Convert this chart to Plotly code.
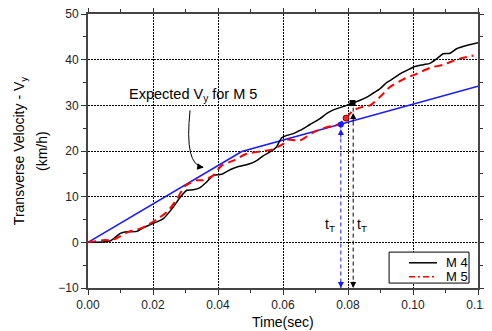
import plotly.graph_objects as go

# M 4 (black solid)
m4_t = [0, 0.0068, 0.0098, 0.0119, 0.015, 0.017, 0.0196, 0.0232, 0.0262, 0.0283, 0.0304, 0.0324,
        0.0345, 0.0365, 0.0386, 0.0411, 0.0437, 0.0463, 0.0493, 0.0519, 0.054, 0.056, 0.058, 0.0596,
        0.0616, 0.0632, 0.0652, 0.0683, 0.0714, 0.0734, 0.0755, 0.078, 0.0796, 0.0814, 0.0837, 0.0858,
        0.0878, 0.0898, 0.0919, 0.0929, 0.096, 0.0991, 0.1006, 0.1032, 0.1052, 0.1073, 0.1093, 0.1114,
        0.1134, 0.1165, 0.12]
m4_v = [0, 0.3, 1.9, 2.3, 2.4, 3.2, 4.0, 5.2, 7.7, 9.8, 11.4, 11.5,
        12.0, 13.2, 14.7, 14.9, 15.9, 16.6, 17.1, 17.9, 19.0, 19.8, 20.9, 22.9,
        23.5, 23.8, 24.5, 25.8, 27.1, 28.2, 29.0, 29.6, 30.0, 30.5, 31.1, 31.8,
        32.7, 33.6, 35.0, 35.4, 36.9, 38.0, 38.5, 38.9, 39.2, 40.2, 41.3, 41.4,
        42.4, 43.1, 43.7]

# M 5 (red dashed)
m5_t = [0, 0.0052, 0.0068, 0.0088, 0.0124, 0.016, 0.0181, 0.0211, 0.0242, 0.0273, 0.0298, 0.0334,
        0.0355, 0.0386, 0.0411, 0.0447, 0.0488, 0.0529, 0.0565, 0.0601, 0.0611, 0.0652, 0.0693,
        0.0734, 0.077, 0.0794, 0.0816, 0.0842, 0.0868, 0.0898, 0.0929, 0.097, 0.1011, 0.1052,
        0.1093, 0.1134, 0.1186]
m5_v = [0, 0.5, 0.4, 0.9, 2.3, 3.0, 3.7, 5.0, 6.6, 9.4, 12.3, 13.6,
        13.6, 14.7, 16.8, 17.9, 19.4, 19.9, 20.3, 21.6, 22.5, 22.3, 24.1,
        25.2, 25.8, 27.2, 28.9, 29.6, 30.0, 31.8, 34.0, 35.7, 36.9, 38.2,
        38.9, 40.0, 40.9]

# Expected Vy for M 5 (blue)
exp_t = [0, 0.0473, 0.12]
exp_v = [0, 19.9, 34.2]

# Marked points
blue_pt = (0.0778, 25.8)
red_pt = (0.0794, 27.2)
black_pt = (0.0814, 30.5)

x_ticks = [0.00, 0.02, 0.04, 0.06, 0.08, 0.10, 0.12]
y_ticks = [-10, 0, 10, 20, 30, 40, 50]

legend_names = ["M 4", "M 5"]

FONT = "Liberation Sans, Arial, sans-serif"
BLUE = "#1a1aff"
RED = "#ff0000"

fig = go.Figure()

fig.add_trace(go.Scatter(x=exp_t, y=exp_v, mode="lines", line=dict(color=BLUE, width=1.6),
                         showlegend=False, hoverinfo="skip"))
fig.add_trace(go.Scatter(x=m4_t, y=m4_v, mode="lines", name=legend_names[0], showlegend=False,
                         line=dict(color="black", width=1.5, shape="spline", smoothing=0.6)))
fig.add_trace(go.Scatter(x=m5_t, y=m5_v, mode="lines", name=legend_names[1], showlegend=False,
                         line=dict(color=RED, width=2, dash="8px,5px", shape="spline", smoothing=0.6)))

# vertical dashed guide lines
fig.add_trace(go.Scatter(x=[blue_pt[0], blue_pt[0]], y=[blue_pt[1], -10], mode="lines",
                         line=dict(color=BLUE, width=1, dash="4px,3px"), showlegend=False, hoverinfo="skip"))
fig.add_trace(go.Scatter(x=[black_pt[0] + 0.0002, black_pt[0] + 0.0002], y=[black_pt[1] - 1, -10], mode="lines",
                         line=dict(color="black", width=1, dash="4px,3px"), showlegend=False, hoverinfo="skip"))

# markers
fig.add_trace(go.Scatter(x=[blue_pt[0]], y=[blue_pt[1]], mode="markers",
                         marker=dict(color=BLUE, size=6, symbol="circle"), showlegend=False, hoverinfo="skip"))
fig.add_trace(go.Scatter(x=[red_pt[0]], y=[red_pt[1]], mode="markers",
                         marker=dict(color="#ff2020", size=6, symbol="circle", line=dict(color="#800000", width=1)),
                         showlegend=False, hoverinfo="skip"))
fig.add_trace(go.Scatter(x=[black_pt[0]], y=[black_pt[1]], mode="markers",
                         marker=dict(color="black", size=6, symbol="square"), showlegend=False, hoverinfo="skip"))

annotations = []
# arrow heads
for (xx, yy, ay, col) in [(blue_pt[0], blue_pt[1] - 1.0, 10, BLUE),
                          (blue_pt[0], -10, -8, BLUE),
                          (black_pt[0] + 0.0002, black_pt[1] - 2.2, 10, "black"),
                          (black_pt[0] + 0.0002, -10, -8, "black")]:
    annotations.append(dict(x=xx, y=yy, xref="x", yref="y", ax=0, ay=ay, showarrow=True,
                            arrowhead=2, arrowsize=1.2, arrowwidth=1, arrowcolor=col, text=""))

# t_T labels
annotations.append(dict(x=0.0745, y=3.7, xref="x", yref="y", text="t<sub>T</sub>", showarrow=False,
                        font=dict(family=FONT, size=14, color="black")))
annotations.append(dict(x=0.0843, y=3.7, xref="x", yref="y", text="t<sub>T</sub>", showarrow=False,
                        font=dict(family=FONT, size=14, color="black")))

# Expected label
annotations.append(dict(x=0.0323, y=32.3, xref="x", yref="y", text="Expected V<sub>y</sub> for M 5",
                        showarrow=False, font=dict(family=FONT, size=14.5, color="black")))
# curved arrow head
annotations.append(dict(x=0.0356, y=16.4, xref="x", yref="y", ax=-7, ay=-1, showarrow=True,
                        arrowhead=2, arrowsize=1.3, arrowwidth=1, arrowcolor="black", text=""))

# y-axis title (two lines)
annotations.append(dict(x=-0.174, y=0.5, xref="paper", yref="paper", textangle=-90,
                        text="Transverse Velocity - V<sub>y</sub>", showarrow=False,
                        xanchor="center", yanchor="middle",
                        font=dict(family=FONT, size=14, color="black")))
annotations.append(dict(x=-0.118, y=0.5, xref="paper", yref="paper", textangle=-90,
                        text="(km/h)", showarrow=False, xanchor="center", yanchor="middle",
                        font=dict(family=FONT, size=14, color="black")))
# x-axis title
annotations.append(dict(x=0.5, y=-0.124, xref="paper", yref="paper", text="Time(sec)",
                        showarrow=False, xanchor="center", yanchor="middle",
                        font=dict(family=FONT, size=14, color="black")))

# legend (drawn manually)
shapes = [dict(type="path", xref="x", yref="y",
               path="M 0.0314,28.9 Q 0.0296,16.8 0.0354,16.5",
               line=dict(color="black", width=1)),
          dict(type="rect", xref="paper", yref="paper", x0=0.772, x1=0.977, y0=0.018, y1=0.131,
               line=dict(color="black", width=1), fillcolor="white", layer="above"),
          dict(type="line", xref="paper", yref="paper", x0=0.823, x1=0.895, y0=0.092, y1=0.092,
               line=dict(color="black", width=1.5), layer="above"),
          dict(type="line", xref="paper", yref="paper", x0=0.823, x1=0.895, y0=0.041, y1=0.041,
               line=dict(color=RED, width=1.5, dash="6px,3px,2px,3px"), layer="above")]
for name, yy in zip(legend_names, [0.092, 0.041]):
    annotations.append(dict(x=0.912, y=yy, xref="paper", yref="paper", text=name, showarrow=False,
                            xanchor="left", yanchor="middle",
                            font=dict(family=FONT, size=13, color="black")))

# page body has an 8px margin: size the figure so it fills the 492x331 window
fig.update_layout(
    annotations=annotations,
    shapes=shapes,
    width=484, height=323,
    margin=dict(l=80, r=14, t=6, b=43, autoexpand=False),
    paper_bgcolor="white", plot_bgcolor="white",
    font=dict(family=FONT, size=12, color="#222"),
    showlegend=False,
)

fig.update_xaxes(range=[0, 0.12], tickvals=x_ticks, tickformat=".2f", automargin=False,
                 ticklabeloverflow="allow",
                 ticks="outside", ticklen=5, tickcolor="#333", mirror="ticks",
                 showline=True, linecolor="#444", linewidth=2,
                 showgrid=True, gridcolor="black", gridwidth=1, griddash="2px,1px",
                 minor=dict(dtick=0.01, ticks="outside", ticklen=3, tickcolor="#333", showgrid=False),
                 zeroline=False,
                 tickfont=dict(family=FONT, size=12, color="#222"))
fig.update_yaxes(range=[-10, 50], tickvals=y_ticks, automargin=False,
                 ticklabeloverflow="allow",
                 ticks="outside", ticklen=5, tickcolor="#333", mirror="ticks",
                 showline=True, linecolor="#444", linewidth=2,
                 showgrid=True, gridcolor="black", gridwidth=1, griddash="2px,1px",
                 minor=dict(dtick=5, ticks="outside", ticklen=3, tickcolor="#333", showgrid=False),
                 zeroline=False,
                 tickfont=dict(family=FONT, size=12, color="#222"))

fig.write_html("out.html")
